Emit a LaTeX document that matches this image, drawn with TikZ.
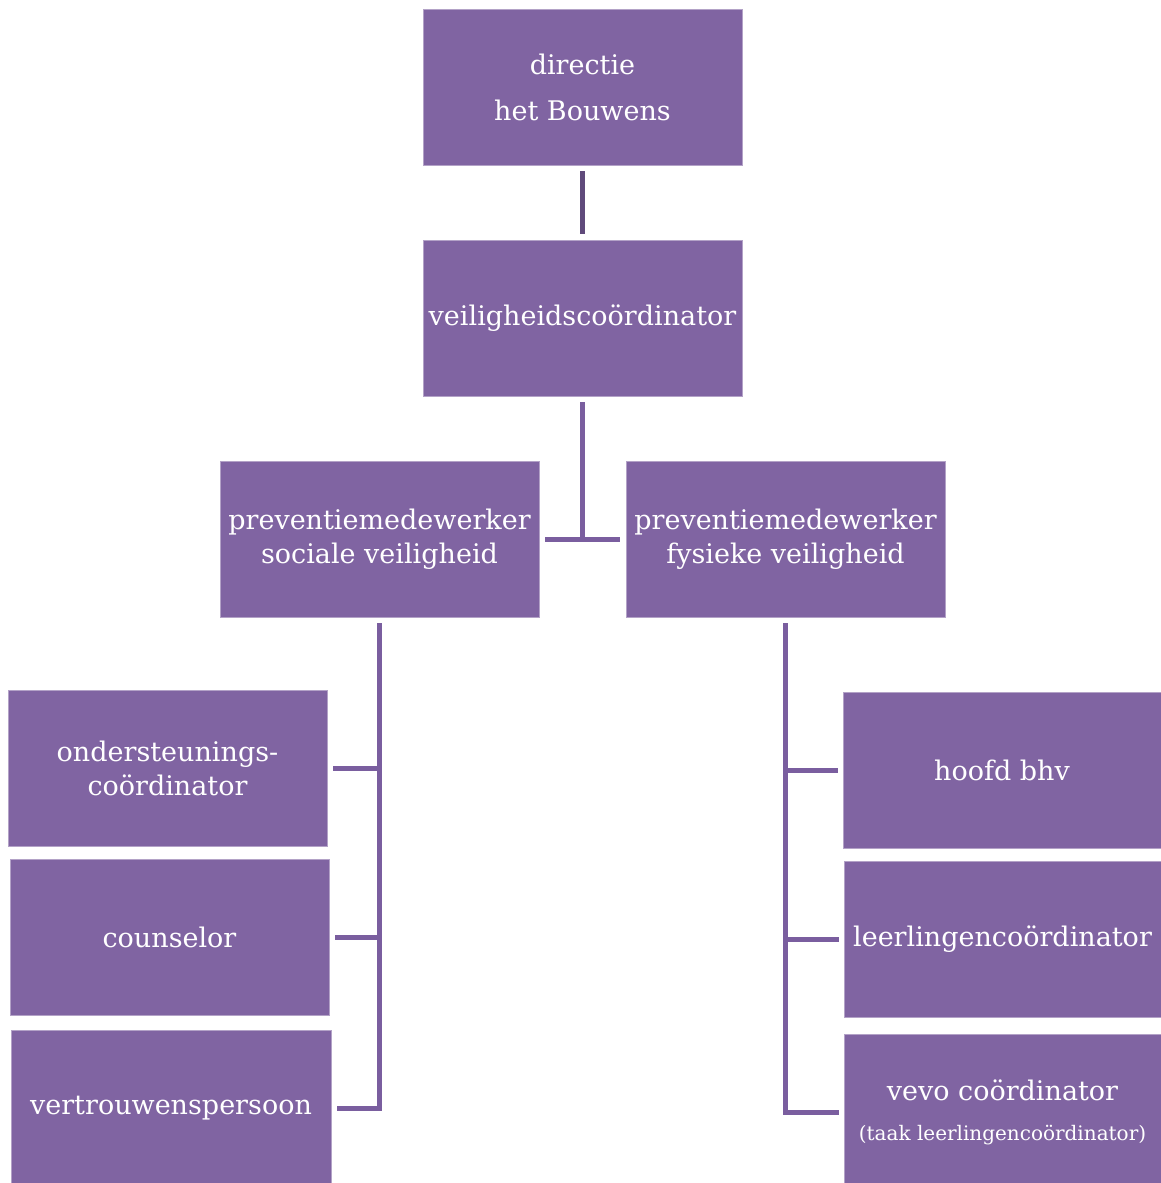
\documentclass[tikz,border=0pt]{standalone}
\usepackage{fontspec}
\setmainfont{DejaVu Serif}
\definecolor{boxfill}{HTML}{8064A2}
\definecolor{linedark}{HTML}{604A7B}
\definecolor{linemid}{HTML}{7A5E9F}
\begin{document}
\begin{tikzpicture}[x=1pt,y=-1pt,
  box/.style={fill=boxfill, draw=boxfill!60!white, line width=0.8pt, text=white, align=center,
    minimum width=319pt, minimum height=156pt, inner sep=0pt,
    font=\fontsize{27}{34}\selectfont},
  conn/.style={draw=linemid, line width=5pt}]
\useasboundingbox (0,0) rectangle (1160,1183);
\node[box] (dir) at (582.5,87) {directie\\[12pt]het Bouwens};
\node[box] (veil) at (582.5,318) {veiligheidscoördinator};
\node[box] (ps) at (379.5,539) {preventiemedewerker\\sociale veiligheid};
\node[box] (pf) at (785.5,539) {preventiemedewerker\\fysieke veiligheid};
\node[box] (ond) at (167.5,768.5) {ondersteunings-\\coördinator};
\node[box] (cou) at (169.5,937) {counselor};
\node[box, minimum width=320pt] (ver) at (171,1108) {vertrouwenspersoon};
\node[box, minimum width=318pt] (hb) at (1002,770.5) {hoofd bhv};
\node[box, minimum width=317pt] (ll) at (1002.5,939.5) {leerlingencoördinator};
\node[box, minimum width=317pt] (vevo) at (1002.5,1112) {vevo coördinator\\[6pt]{\fontsize{20}{24}\selectfont(taak leerlingencoördinator)}};
\coordinate (tj) at (582.5,540);
% connectors
\draw[conn, draw=linedark, shorten <=6pt, shorten >=6pt] (dir.south) -- (veil.north);
\draw[conn, shorten <=6pt] (veil.south) -- (tj);
\draw[conn, shorten <=6pt, shorten >=6pt] (ps.east) -- (pf.west);
\draw[conn, shorten <=6pt, shorten >=6pt] (ps.south) |- (ver.east);
\draw[conn, shorten >=6pt] (ps.south |- ond.east) -- (ond.east);
\draw[conn, shorten >=6pt] (ps.south |- cou.east) -- (cou.east);
\draw[conn, shorten <=6pt, shorten >=5pt] (pf.south) |- (vevo.west);
\draw[conn, shorten >=5pt] (pf.south |- hb.west) -- (hb.west);
\draw[conn, shorten >=5pt] (pf.south |- ll.west) -- (ll.west);
\end{tikzpicture}
\end{document}
